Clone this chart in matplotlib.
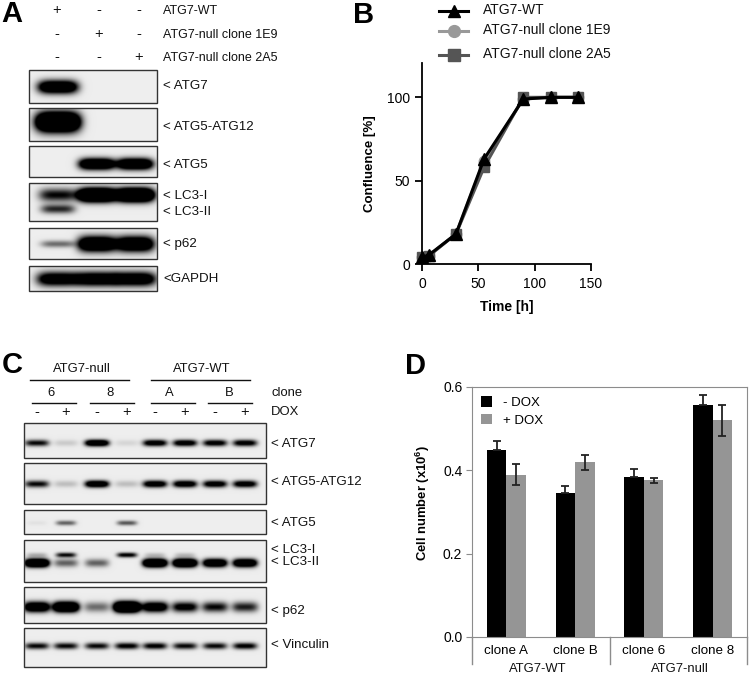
import matplotlib
matplotlib.use("Agg")
import matplotlib.pyplot as plt
import numpy as np

plt.rcParams['font.family'] = ['Liberation Sans', 'DejaVu Sans']
plt.rcParams['mathtext.fontset'] = 'custom'
plt.rcParams['mathtext.rm'] = 'Liberation Sans:bold'
plt.rcParams['mathtext.bf'] = 'Liberation Sans:bold'

W, H = 749, 675

# panel B: confluence over time
time_h = [0, 6, 30, 55, 90, 115, 139]
conf_wt = [4, 5.5, 18, 63, 99, 100, 100]
conf_1e9 = [4, 5, 18, 62, 99, 100, 100]
conf_2a5 = [4, 5, 18, 58, 100, 100, 100]
line_names = ['ATG7-WT', 'ATG7-null clone 1E9', 'ATG7-null clone 2A5']

# panel D: cell numbers
clones = ['clone A', 'clone B', 'clone 6', 'clone 8']
minus_dox = [0.45, 0.346, 0.383, 0.556]
plus_dox = [0.39, 0.42, 0.376, 0.52]
minus_err = [0.02, 0.016, 0.021, 0.024]
plus_err = [0.026, 0.018, 0.006, 0.037]

# panel A blots: band intensity per lane, one list for each band row
a_atg7 = [1.8, 0, 0]
a_atg512 = [2.8, 0, 0]
a_atg5 = [0, 2.0, 2.0]
a_lc3i = [1.0, 2.8, 2.8]
a_lc3ii = [0.85, 0, 0]
a_p62_wt = [0.55, 0, 0]
a_p62 = [0, 2.0, 1.9]
a_gapdh = [1.5, 1.6, 1.6]

# panel C blots
c_atg7 = [1.0, 0.15, 1.7, 0.1, 1.3, 1.3, 1.2, 1.2]
c_atg512 = [1.0, 0.2, 1.6, 0.2, 1.4, 1.4, 1.3, 1.3]
c_atg5 = [0.05, 0.6, 0, 0.65, 0, 0, 0, 0]
c_lc3i = [0.25, 1.0, 0, 1.1, 0.2, 0.2, 0, 0]
c_lc3ii = [2.4, 0.6, 0.6, 0, 2.4, 2.4, 1.9, 1.9]
c_p62 = [1.8, 2.3, 0.55, 3.0, 1.6, 1.2, 1.0, 0.9]
c_vinc = [1.0, 1.0, 1.0, 1.1, 1.1, 1.0, 1.0, 1.1]

lanes_a = [58, 97, 135]
lanes_c = [37, 66, 97, 127, 155, 185, 215, 245]


def axes_px(fig, x0, y0, x1, y1):
    return fig.add_axes([x0 / W, 1 - y1 / H, (x1 - x0) / W, (y1 - y0) / H])


def draw_blot(ax, box, lanes, rows, bg=0.93):
    """box is x0,y0,x1,y1 and rows are (y centre, half height, half width, intensities)"""
    x0, y0, x1, y1 = box
    xx, yy = np.meshgrid(np.arange(x0, x1, 0.5) + 0.25, np.arange(y0, y1, 0.5) + 0.25)
    dark = np.zeros(xx.shape)
    for yc, hh, hw, vals in rows:
        for lane, v in zip(lanes, vals):
            dark += v * np.exp(-(np.abs(xx - lane) / hw) ** 4) * np.exp(-((yy - yc) / hh) ** 2)
    img = bg * (1 - np.clip(dark, 0, 1))
    ax.imshow(img, cmap='gray', vmin=0, vmax=1, extent=(x0, x1, y1, y0),
              aspect='auto', interpolation='bilinear', zorder=1)
    ax.add_patch(plt.Rectangle((x0, y0), x1 - x0, y1 - y0, fill=False,
                               ec='#333333', lw=1.0, zorder=2))


fig = plt.figure(figsize=(W / 100, H / 100), dpi=100)

# overlay in pixel coordinates for the blots and all the loose labels
ov = fig.add_axes([0, 0, 1, 1])

blots_a = [
    ((29, 70, 157, 103), [(87, 6.5, 20, a_atg7)]),
    ((29, 108, 157, 141), [(122, 9.5, 22, a_atg512)]),
    ((29, 146, 157, 177), [(164, 5.5, 18, a_atg5)]),
    ((29, 183, 157, 221), [(195, 6.5, 19, a_lc3i), (209, 4.5, 17, a_lc3ii)]),
    ((29, 228, 157, 259), [(244, 3.5, 17, a_p62_wt), (244, 7.5, 19, a_p62)]),
    ((29, 266, 157, 291), [(279, 7, 21, a_gapdh)]),
]
for box, rows in blots_a:
    draw_blot(ov, box, lanes_a, rows)

blots_c = [
    ((24, 423, 266, 458), [(443, 3.2, 12, c_atg7)]),
    ((24, 463, 266, 504), [(484, 3.4, 12, c_atg512)]),
    ((24, 510, 266, 534), [(523, 2.4, 10, c_atg5)]),
    ((24, 540, 266, 582), [(555, 2.4, 10, c_lc3i), (563, 4, 12, c_lc3ii)]),
    ((24, 587, 266, 623), [(607, 5, 13, c_p62)]),
    ((24, 628, 266, 667), [(646, 3.2, 12, c_vinc)]),
]
for box, rows in blots_c:
    draw_blot(ov, box, lanes_c, rows)

ov.set_xlim(0, W)
ov.set_ylim(H, 0)
ov.axis('off')


def label(x, y, s, size=9.0, **kw):
    kw.setdefault('va', 'center')
    ov.text(x, y, s, fontsize=size, color='#111111', **kw)


# panel letters
for x, y, s in [(1, 14, 'A'), (353, 15, 'B'), (2, 365, 'C'), (405, 366, 'D')]:
    ov.text(x, y, s, fontsize=21, fontweight='bold', color='black', va='center')

# panel A header
signs_a = [['+', '-', '-'], ['-', '+', '-'], ['-', '-', '+']]
for y, signs, name in zip([10, 34, 57], signs_a, line_names):
    for x, s in zip([57, 99, 139], signs):
        label(x, y, s, ha='center', size=10.5)
    label(163, y + 1, name)

for y, s in [(86, '< ATG7'), (127, '< ATG5-ATG12'), (165, '< ATG5'), (196, '< LC3-I'),
             (212, '< LC3-II'), (244, '< p62'), (279, '<GAPDH')]:
    label(163, y, s, size=9.6)

# panel C header
label(82, 369, 'ATG7-null', ha='center', size=9.4)
label(202, 369, 'ATG7-WT', ha='center', size=9.4)
for x0, x1 in [(30, 129), (151, 250)]:
    ov.plot([x0, x1], [380, 380], color='#111111', lw=1)
for xc, s in [(51, '6'), (110, '8'), (169, 'A'), (229, 'B')]:
    label(xc, 393, s, ha='center', size=9.4)
for x0, x1 in [(32, 76), (90, 134), (151, 195), (208, 252)]:
    ov.plot([x0, x1], [403, 403], color='#111111', lw=1)
for x, s in zip(lanes_c, ['-', '+'] * 4):
    label(x, 412, s, ha='center', size=10.5)
label(271, 393, 'clone', size=9.4)
label(271, 412, 'DOX', size=9.4)

for y, s in [(444, '< ATG7'), (482, '< ATG5-ATG12'), (523, '< ATG5'), (550, '< LC3-I'),
             (562, '< LC3-II'), (611, '< p62'), (645, '< Vinculin')]:
    label(271, y, s, size=9.6)

# panel B line legend drawn by hand, it sits above the axes
styles = [('black', '^'), ('#999999', 'o'), ('#555555', 's')]
for y, (col, mk), name in zip([11, 31, 55], styles, line_names):
    ov.plot([439, 468], [y, y], color=col, lw=2.2)
    ov.plot([453.5], [y], color=col, marker=mk, ms=8.5)
    label(483, y - 1, name, size=10)

# panel D separators and second level labels
for x in [472, 609.5, 747]:
    ov.plot([x, x], [637, 664], color='#8c8c8c', lw=1)
label(538, 669, 'ATG7-WT', ha='center', size=9.4)
label(680, 669, 'ATG7-null', ha='center', size=9.4)
ov.set_xlim(0, W)
ov.set_ylim(H, 0)

# panel B axes
axb = axes_px(fig, 422.3, 63, 590.7, 264)
axb.patch.set_alpha(0)
axb.plot(time_h, conf_1e9, color='#999999', lw=2.2, marker='o', ms=7.5, clip_on=False)
axb.plot(time_h, conf_2a5, color='#555555', lw=2.2, marker='s', ms=7.5, clip_on=False)
axb.plot(time_h, conf_wt, color='black', lw=2.2, marker='^', ms=8, clip_on=False)
axb.set_xlim(0, 150)
axb.set_ylim(0, 120.6)
axb.set_xticks([0, 50, 100, 150])
axb.set_yticks([0, 50, 100])
axb.spines[['top', 'right']].set_visible(False)
axb.spines[['left', 'bottom']].set_linewidth(1.3)
axb.tick_params(width=1.3, length=5, labelsize=10, pad=4)
axb.set_xlabel('Time [h]', fontweight='bold', fontsize=10, labelpad=7)
axb.set_ylabel('Confluence [%]', fontweight='bold', fontsize=9.5, labelpad=8)

# panel D axes
axd = axes_px(fig, 472, 387, 747, 637)
axd.patch.set_alpha(0)
x = np.arange(len(clones))
bw = 0.285
axd.bar(x - bw / 2, minus_dox, bw, color='black', label='- DOX')
axd.bar(x + bw / 2, plus_dox, bw, color='#959595', label='+ DOX')
axd.errorbar(x - bw / 2, minus_dox, yerr=[[0] * 4, minus_err], fmt='none', ecolor='#222222',
             capsize=3, lw=1.3, capthick=1.3)
axd.errorbar(x + bw / 2, plus_dox, yerr=plus_err, fmt='none', ecolor='#222222',
             capsize=3, lw=1.3, capthick=1.3)
axd.set_xlim(-0.5, 3.5)
axd.set_ylim(0, 0.6)
axd.set_xticks(x)
axd.set_xticklabels(clones)
axd.set_yticks([0, 0.2, 0.4, 0.6])
axd.set_yticklabels(['0.0', '0.2', '0.4', '0.6'])
axd.tick_params(axis='x', length=0, labelsize=9.6, pad=6)
axd.tick_params(axis='y', color='#8c8c8c', length=4, labelsize=10, pad=3)
for sp in axd.spines.values():
    sp.set_color('#8c8c8c')
axd.set_ylabel(r'Cell number (x10$^{6}$)', fontweight='bold', fontsize=9.4, labelpad=8, y=0.536)
axd.legend(loc='upper left', frameon=False, fontsize=9.5, handlelength=0.85, handleheight=0.85,
           handletextpad=0.8, labelspacing=0.35, borderaxespad=0.3, borderpad=0.4)

fig.savefig('out.png', dpi=100)
